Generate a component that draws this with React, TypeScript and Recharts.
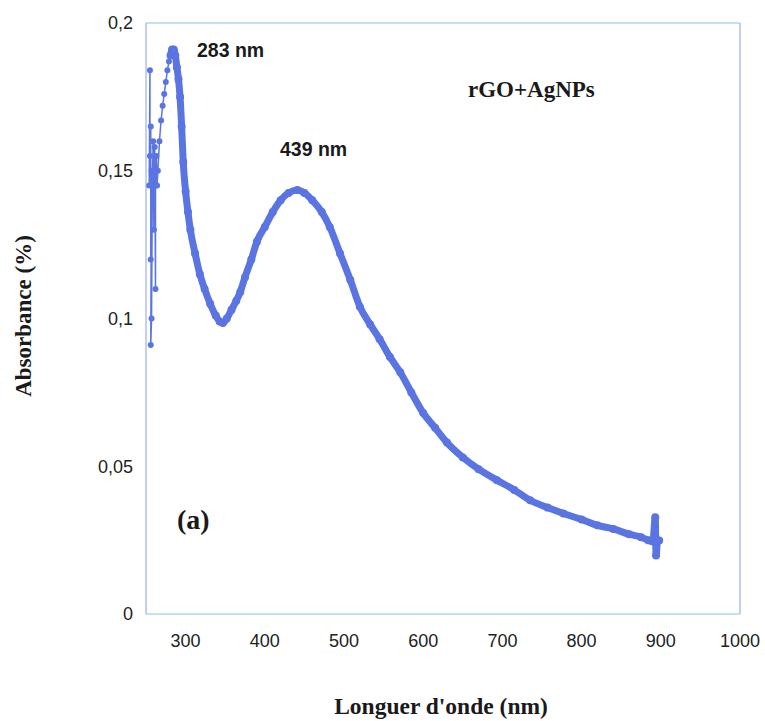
import React from 'react';
import { LineChart, Line, XAxis, YAxis, ReferenceLine } from 'recharts';

const noiseNm = [254, 255, 255, 256, 256, 257, 256, 257, 258, 259, 260, 261, 262, 262, 263, 264, 265, 267, 269, 271, 273, 275, 277, 279, 281];
const noiseAbs = [0.145, 0.184, 0.155, 0.165, 0.12, 0.15, 0.091, 0.1, 0.145, 0.16, 0.13, 0.158, 0.11, 0.145, 0.155, 0.145, 0.15, 0.16, 0.167, 0.172, 0.176, 0.18, 0.184, 0.187, 0.189];

const mainNm = [281, 283, 285, 287, 289, 291, 293, 295, 297, 300, 303, 306, 312, 318, 324, 331, 338, 343, 347, 352, 358, 364, 369, 375, 383, 390, 400, 410, 420, 430, 441, 450, 460, 472, 482, 495, 508, 520, 533, 545, 558, 571, 585, 600, 615, 630, 650, 670, 693, 715, 735, 757, 777, 800, 820, 840, 860, 875, 884, 890, 893, 894, 896, 898];
const mainAbs = [0.189, 0.191, 0.191, 0.189, 0.185, 0.181, 0.175, 0.165, 0.153, 0.143, 0.136, 0.13, 0.122, 0.115, 0.11, 0.105, 0.101, 0.099, 0.0985, 0.1, 0.103, 0.106, 0.109, 0.114, 0.12, 0.126, 0.131, 0.136, 0.14, 0.1425, 0.1435, 0.1425, 0.14, 0.136, 0.131, 0.122, 0.113, 0.104, 0.098, 0.093, 0.087, 0.0818, 0.075, 0.068, 0.063, 0.058, 0.053, 0.049, 0.0453, 0.042, 0.0385, 0.036, 0.034, 0.032, 0.03, 0.0288, 0.027, 0.026, 0.025, 0.0245, 0.0327, 0.0198, 0.025, 0.0249];

const xTicks = [300, 400, 500, 600, 700, 800, 900, 1000];
const yTicks = [0, 0.05, 0.1, 0.15, 0.2];

const noiseData = noiseNm.map((nm, i) => ({ nm, abs: noiseAbs[i] }));
const mainData = mainNm.map((nm, i) => ({ nm, abs: mainAbs[i] }));

const BLUE = '#5a74e2';
const BORDER = '#86c2ec';

const tickStyle = { fill: '#222', fontSize: 18, fontFamily: 'Liberation Sans, Arial, sans-serif' };
const serifBold: React.CSSProperties = {
  position: 'absolute',
  fontFamily: '"Liberation Serif", "Times New Roman", serif',
  fontWeight: 'bold',
  color: '#1a1a1a',
  lineHeight: 1,
  whiteSpace: 'nowrap',
};
const sansBold: React.CSSProperties = {
  position: 'absolute',
  fontFamily: '"Liberation Sans", Arial, sans-serif',
  fontWeight: 'bold',
  color: '#1a1a1a',
  lineHeight: 1,
  fontSize: 19.5,
  whiteSpace: 'nowrap',
};

export default function App() {
  return (
    <div style={{ position: 'absolute', left: 0, top: 0, width: 765, height: 721, background: '#fff' }}>
      <LineChart width={765} height={721} margin={{ top: 23, right: 25, left: 0, bottom: 47 }}>
        <XAxis
          dataKey="nm"
          type="number"
          domain={[250, 1000]}
          ticks={xTicks}
          allowDataOverflow
          stroke={BORDER}
          tickLine={false}
          tickSize={0}
          tickMargin={20}
          tick={tickStyle}
          height={60}
        />
        <YAxis
          dataKey="abs"
          type="number"
          domain={[0, 0.2]}
          ticks={yTicks}
          stroke="#8f9fe0"
          tickLine={false}
          tickSize={0}
          tickMargin={13}
          tick={tickStyle}
          width={146}
          tickFormatter={(v: number) => String(v).replace('.', ',')}
        />
        <ReferenceLine y={0.2} stroke={BORDER} />
        <ReferenceLine x={1000} stroke="#8f9fe0" />
        <Line
          data={noiseData}
          dataKey="abs"
          stroke={BLUE}
          strokeWidth={1.5}
          dot={{ r: 3, fill: BLUE, stroke: 'none' }}
          isAnimationActive={false}
        />
        <Line
          data={mainData}
          dataKey="abs"
          type="monotone"
          stroke={BLUE}
          strokeWidth={7}
          dot={{ r: 4, fill: BLUE, stroke: 'none' }}
          isAnimationActive={false}
        />
      </LineChart>
      <div style={{ ...sansBold, left: 197, top: 41 }}>283 nm</div>
      <div style={{ ...sansBold, left: 280, top: 140 }}>439 nm</div>
      <div style={{ ...serifBold, left: 468, top: 78, fontSize: 23 }}>rGO+AgNPs</div>
      <div style={{ ...serifBold, left: 177, top: 506, fontSize: 28 }}>(a)</div>
      <div style={{ ...serifBold, left: 441, top: 707, fontSize: 23.5, transform: 'translate(-50%, -50%)' }}>
        Longuer d'onde (nm)
      </div>
      <div style={{ ...serifBold, left: 23, top: 316, fontSize: 23, transform: 'translate(-50%, -50%) rotate(-90deg)' }}>
        Absorbance (%)
      </div>
    </div>
  );
}
